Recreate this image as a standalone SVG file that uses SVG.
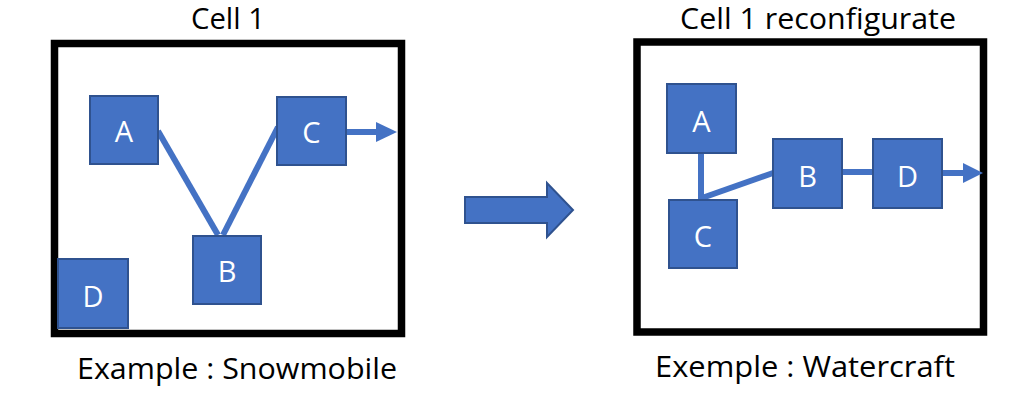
<svg xmlns="http://www.w3.org/2000/svg" width="1023" height="402" viewBox="0 0 1023 402">
<defs>
<style>
.frame{fill:none;stroke:#000;stroke-width:7.5}
.node{fill:#4472C4;stroke:#2F528F;stroke-width:2}
.lbl{fill:#fff;font-family:"Open Sans","Noto Sans",sans-serif;font-size:29px;text-anchor:middle}
.title{fill:#000;font-family:"Open Sans","Noto Sans",sans-serif;font-size:29px;text-anchor:middle}
.cap{fill:#000;font-family:"Open Sans","Noto Sans",sans-serif;font-size:30px;text-anchor:middle}
.conn{stroke:#4472C4;stroke-width:6;fill:none}
.head{fill:#4472C4}
</style>
</defs>
<rect width="1023" height="402" fill="#fff"/>
<text class="title" x="228" y="29" textLength="74" lengthAdjust="spacingAndGlyphs">Cell 1</text>
<text class="title" x="818" y="29" textLength="276" lengthAdjust="spacingAndGlyphs">Cell 1 reconfigurate</text>
<text class="cap" x="237" y="379" textLength="320" lengthAdjust="spacingAndGlyphs">Example : Snowmobile</text>
<text class="cap" x="805" y="377" textLength="300" lengthAdjust="spacingAndGlyphs">Exemple : Watercraft</text>
<rect class="frame" x="54.5" y="43.5" width="347" height="290"/>
<rect class="frame" x="637" y="42" width="346.5" height="290"/>
<g id="connectors">
<line class="conn" x1="158" y1="131" x2="218" y2="235"/>
<line class="conn" x1="223" y1="235" x2="278" y2="127"/>
<line class="conn" x1="346" y1="132" x2="377" y2="132"/>
<polygon class="head" points="376,122 397,132 376,142"/>
<line class="conn" x1="701" y1="153" x2="701" y2="200"/>
<line class="conn" x1="702" y1="198" x2="773" y2="173"/>
<line class="conn" x1="842" y1="172" x2="873" y2="172"/>
<line class="conn" x1="942" y1="173" x2="964" y2="173"/>
<polygon class="head" points="963,163 983,173 963,183"/>
</g>
<g id="transition-arrow">
<polygon points="465,197 547,197 547,183 573,210 547,237 547,223 465,223" fill="#4472C4" stroke="#2F528F" stroke-width="2"/>
</g>
<g id="cell1-A"><rect class="node" x="90" y="96" width="68" height="68"/><text class="lbl" x="124" y="142">A</text></g>
<g id="cell1-C"><rect class="node" x="277" y="97" width="69" height="68"/><text class="lbl" x="311.5" y="143">C</text></g>
<g id="cell1-B"><rect class="node" x="193" y="236" width="68" height="68"/><text class="lbl" x="227" y="282">B</text></g>
<g id="cell1-D"><rect class="node" x="58" y="259" width="70" height="69"/><text class="lbl" x="93" y="307">D</text></g>
<g id="cell2-A"><rect class="node" x="667" y="84" width="69" height="69"/><text class="lbl" x="701.5" y="132">A</text></g>
<g id="cell2-C"><rect class="node" x="669" y="200" width="68" height="68"/><text class="lbl" x="703" y="247">C</text></g>
<g id="cell2-B"><rect class="node" x="773" y="139" width="69" height="69"/><text class="lbl" x="807.5" y="187">B</text></g>
<g id="cell2-D"><rect class="node" x="873" y="139" width="69" height="69"/><text class="lbl" x="907.5" y="187">D</text></g>
</svg>
